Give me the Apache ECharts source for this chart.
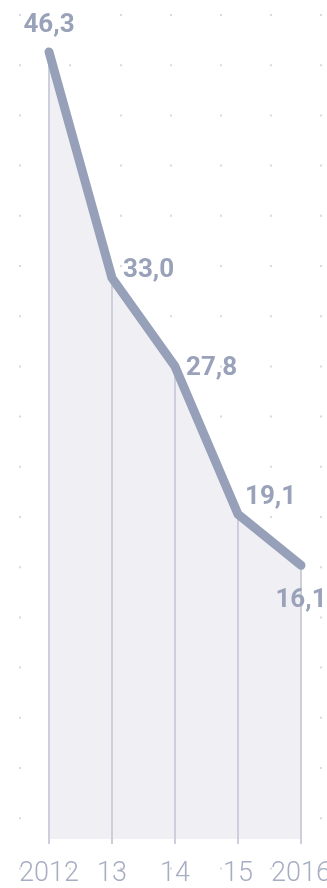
<!DOCTYPE html>
<html>
<head>
<meta charset="utf-8">
<script src="https://cdn.jsdelivr.net/npm/echarts@6/dist/echarts.min.js"></script>
<style>
html,body{margin:0;padding:0;background:#fff;}
#c{width:327px;height:888px;}
</style>
</head>
<body>
<div id="c"></div>
<script>
var categories = ['2012', '13', '14', '15', '2016'];
var values = [46.3, 33.0, 27.8, 19.1, 16.1];

var labelPlacement = [
  {position: 'top', distance: 12, offset: [0, 0]},
  {position: 'right', distance: 10, offset: [0, -8]},
  {position: 'right', distance: 10, offset: [0, 2]},
  {position: 'right', distance: 6, offset: [0, -17]},
  {position: 'bottom', distance: 21, offset: [0, 0]}
];

var lineColor = '#96a0b8';
var labelColor = '#9aa2b9';

var lineData = values.map(function (v, i) {
  return {
    value: v,
    label: {
      show: true,
      position: labelPlacement[i].position,
      distance: labelPlacement[i].distance,
      offset: labelPlacement[i].offset
    }
  };
});

var chart = echarts.init(document.getElementById('c'), null, {renderer: 'canvas'});
chart.setOption({
  animation: false,
  backgroundColor: '#ffffff',
  grid: [
    {left: 49, right: 26, top: 23, bottom: 49, outerBoundsMode: 'none', containLabel: false},
    {left: 20, width: 301.2, top: 14, height: 855.4, outerBoundsMode: 'none', containLabel: false}
  ],
  xAxis: [
    {
      type: 'category', gridIndex: 0, data: categories, boundaryGap: false,
      axisLine: {show: false},
      axisTick: {show: true, length: 5, lineStyle: {color: '#cdd0dc', width: 2}},
      axisLabel: {
        color: '#a7aec2', fontFamily: 'Roboto', fontWeight: 300, fontSize: 27,
        margin: 22, interval: 0, hideOverlap: false
      },
      splitLine: {show: false}
    },
    {
      type: 'value', gridIndex: 1, min: 0, max: 6, interval: 1,
      axisLine: {show: false}, axisTick: {show: false}, axisLabel: {show: false},
      splitLine: {show: true, lineStyle: {color: '#dadade', width: 2, type: [2, 48.2]}}
    }
  ],
  yAxis: [
    {
      type: 'value', gridIndex: 0, min: 0, max: 48,
      axisLine: {show: false}, axisTick: {show: false}, axisLabel: {show: false},
      splitLine: {show: false}
    },
    {
      type: 'value', gridIndex: 1, min: 0, max: 1,
      axisLine: {show: false}, axisTick: {show: false}, axisLabel: {show: false},
      splitLine: {show: false}
    }
  ],
  series: [
    {
      type: 'line', xAxisIndex: 0, yAxisIndex: 0, data: values, z: 1,
      symbol: 'none', lineStyle: {width: 0},
      areaStyle: {color: '#f0f0f4', opacity: 1}
    },
    {
      type: 'bar', xAxisIndex: 0, yAxisIndex: 0, data: values, z: 2,
      barWidth: 2, itemStyle: {color: '#cdd0dc'}
    },
    {
      type: 'line', xAxisIndex: 0, yAxisIndex: 0, data: lineData, z: 3,
      symbol: 'circle', symbolSize: 2, showSymbol: true,
      itemStyle: {color: lineColor},
      lineStyle: {color: lineColor, width: 9, cap: 'round', join: 'round'},
      label: {
        show: true, color: labelColor, fontFamily: 'Roboto', fontWeight: 700,
        fontSize: 26,
        formatter: function (p) { return p.value.toFixed(1).replace('.', ','); }
      }
    }
  ]
});
</script>
</body>
</html>
